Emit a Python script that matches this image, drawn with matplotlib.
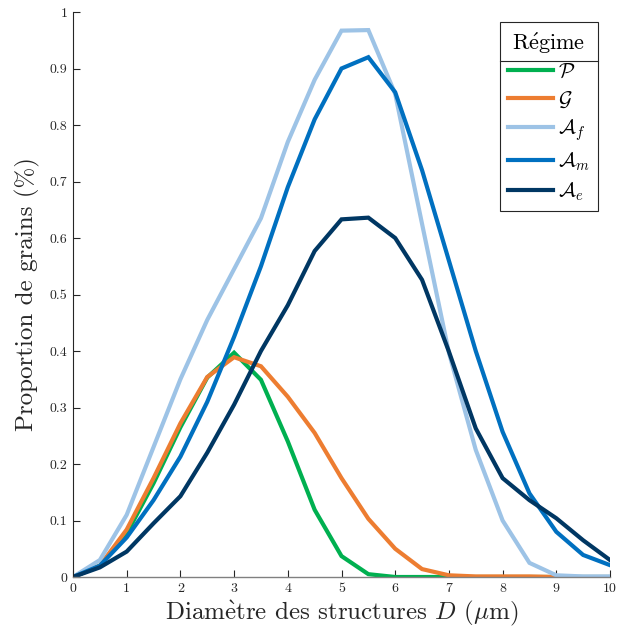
import matplotlib
matplotlib.use("Agg")
import matplotlib.pyplot as plt
from matplotlib.lines import Line2D

plt.rcParams['font.family'] = ['serif']
plt.rcParams['font.serif'] = ['cmr10', 'DejaVu Serif']
plt.rcParams['mathtext.fontset'] = 'cm'
plt.rcParams['axes.formatter.use_mathtext'] = True

D = [0, 0.5, 1, 1.5, 2, 2.5, 3, 3.5, 4, 4.5, 5, 5.5, 6, 6.5, 7, 7.5, 8, 8.5, 9, 9.5, 10]

P = [0, 0.02, 0.077, 0.166, 0.265, 0.353, 0.397, 0.349, 0.24, 0.119, 0.037, 0.005, 0.0, 0.0, 0.0, 0.0, 0.0, 0.0, 0.0, 0.0, 0.0]
G = [0, 0.02, 0.084, 0.175, 0.272, 0.354, 0.389, 0.373, 0.319, 0.255, 0.175, 0.103, 0.05, 0.014, 0.003, 0.001, 0.001, 0.001, 0.0, 0.0, 0.0]
Af = [0, 0.03, 0.11, 0.23, 0.35, 0.455, 0.545, 0.635, 0.77, 0.88, 0.967, 0.968, 0.855, 0.625, 0.397, 0.225, 0.1, 0.025, 0.003, 0.001, 0.001]
Am = [0, 0.02, 0.07, 0.136, 0.213, 0.31, 0.425, 0.55, 0.69, 0.81, 0.90, 0.92, 0.858, 0.72, 0.56, 0.40, 0.257, 0.148, 0.08, 0.039, 0.021]
Ae = [0, 0.017, 0.045, 0.095, 0.143, 0.22, 0.305, 0.40, 0.481, 0.577, 0.633, 0.636, 0.60, 0.526, 0.399, 0.263, 0.175, 0.136, 0.104, 0.065, 0.03]

labels = [r'$\mathcal{P}$', r'$\mathcal{G}$', r'$\mathcal{A}_f$', r'$\mathcal{A}_m$', r'$\mathcal{A}_e$']
colors = ['#00b050', '#ed7d31', '#9dc3e6', '#0070c0', '#003763']

xticks = [0, 1, 2, 3, 4, 5, 6, 7, 8, 9, 10]
yticks = [0, 0.1, 0.2, 0.3, 0.4, 0.5, 0.6, 0.7, 0.8, 0.9, 1]
yticklabels = ['0', '0.1', '0.2', '0.3', '0.4', '0.5', '0.6', '0.7', '0.8', '0.9', '1']

fig = plt.figure(figsize=(6.18, 6.35), dpi=100)
ax = fig.add_axes([73/618, 58/635, 537/618, 565/635])

for ys, lab, c in zip([P, G, Af, Am, Ae], labels, colors):
    ax.plot(D, ys, color=c, lw=3.0, label=lab, solid_joinstyle='miter')

ax.set_xlim(0, 10)
ax.set_ylim(0, 1)
ax.set_xticks(xticks)
ax.set_xticklabels([str(t) for t in xticks])
ax.set_yticks(yticks)
ax.set_yticklabels(yticklabels)
ax.tick_params(direction='in', length=5, width=0.8, colors='#262626', labelsize=10, pad=4)
for s in ['top', 'right']:
    ax.spines[s].set_visible(False)
ax.spines['left'].set_color('#262626')
ax.spines['bottom'].set_color('#808080')
ax.spines['left'].set_linewidth(0.8)
ax.spines['bottom'].set_linewidth(1.0)

ax.set_xlabel(r'Diam$\grave{\mathrm{e}}$tre des structures $D$ ($\mu$m)', fontsize=18, color='#262626', labelpad=3)
ax.set_ylabel('Proportion de grains (%)', fontsize=18, color='#262626', labelpad=7)

leg = ax.legend(title=r'R$\acute{\mathrm{e}}$gime', loc='upper right', bbox_to_anchor=(0.978, 0.982),
                fancybox=False, edgecolor='#262626', framealpha=1, fontsize=15,
                title_fontsize=16, handlelength=2.15, handletextpad=0.25, labelspacing=0.36,
                borderpad=0.4, borderaxespad=0)
leg.get_frame().set_linewidth(0.8)

fig.canvas.draw()
bb = leg.get_window_extent()
tb = leg.get_title().get_window_extent()
ysep = tb.y0 - 5
inv = fig.transFigure.inverted()
(x0, y0) = inv.transform((bb.x0, ysep))
(x1, _) = inv.transform((bb.x1, ysep))
fig.add_artist(Line2D([x0, x1], [y0, y0], color='#262626', lw=0.8))

fig.savefig('out.png', dpi=100)
